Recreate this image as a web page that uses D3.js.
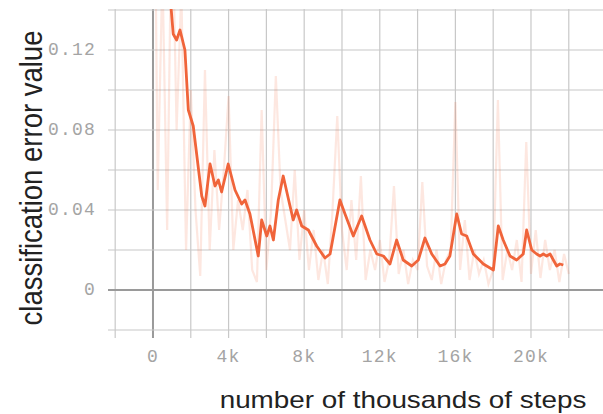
<!DOCTYPE html>
<html>
<head>
<meta charset="utf-8">
<script src="https://cdn.jsdelivr.net/npm/d3@7"></script>
<style>
  body { margin: 0; background: #fff; }
  svg { display: block; }
</style>
</head>
<body>
<div id="container"></div>
<script>
//Smoothed curve (thousands of steps, error value)
var smoothSteps = [0, 0.5, 0.95, 1.07, 1.25, 1.43, 1.69, 1.87, 2.13, 2.58, 2.75, 3.02, 3.28, 3.46, 3.63, 3.98,
    4.34, 4.69, 4.87, 5.13, 5.57, 5.75, 6.02, 6.19, 6.37, 6.63, 6.89, 7.25, 7.42, 7.60, 7.87, 8.22, 8.66,
    9.10, 9.37, 9.89, 10.16, 10.60, 11.04, 11.48, 11.84, 12.19, 12.54, 12.89, 13.24, 13.69, 14.04, 14.39,
    14.75, 15.19, 15.45, 15.71, 16.07, 16.33, 16.60, 16.95, 17.48, 18.01, 18.27, 18.53, 18.89, 19.24,
    19.59, 19.77, 20.04, 20.30, 20.48, 20.65, 20.83, 21.01, 21.36, 21.53, 21.71];
var smoothValues = [0.22, 0.18, 0.142, 0.128, 0.125, 0.130, 0.120, 0.090, 0.082, 0.047, 0.042, 0.063, 0.052, 0.055, 0.049, 0.063,
    0.050, 0.043, 0.045, 0.038, 0.017, 0.035, 0.027, 0.032, 0.025, 0.045, 0.057, 0.042, 0.035, 0.040, 0.032, 0.030, 0.022,
    0.016, 0.018, 0.045, 0.038, 0.027, 0.037, 0.025, 0.018, 0.017, 0.013, 0.025, 0.015, 0.012, 0.015, 0.026,
    0.018, 0.012, 0.013, 0.017, 0.038, 0.028, 0.027, 0.018, 0.013, 0.010, 0.032, 0.025, 0.017, 0.015,
    0.018, 0.030, 0.020, 0.018, 0.017, 0.018, 0.017, 0.018, 0.012, 0.013, 0.0125];

//Raw (unsmoothed) values, one every 0.25k steps
var rawSteps = d3.range(0, 22.001, 0.25);
var rawValues = [0.30, 0.05, 0.16, 0.03, 0.20, 0.08, 0.15, 0.02, 0.10, 0.04, 0.007, 0.11, 0.02, 0.07, 0.03, 0.06,
    0.097, 0.02, 0.045, 0.03, 0.05, 0.01, 0.004, 0.09, 0.01, 0.04, 0.107, 0.05, 0.035, 0.02, 0.06, 0.015,
    0.04, 0.01, 0.03, 0.005, 0.02, 0.003, 0.04, 0.087, 0.03, 0.01, 0.045, 0.015, 0.057, 0.005, 0.02, 0.01,
    0.025, 0.004, 0.015, 0.052, 0.008, 0.02, 0.003, 0.015, 0.01, 0.054, 0.012, 0.005, 0.02, 0.003,
    0.015, 0.02, 0.094, 0.01, 0.035, 0.005, 0.02, 0.008, 0.015, 0.003, 0.01, 0.095, 0.005, 0.02,
    0.01, 0.025, 0.004, 0.074, 0.008, 0.03, 0.006, 0.025, 0.01, 0.02, 0.004, 0.018, 0.008];

//Tick labels
var xTicks = [0, 4, 8, 12, 16, 20];
var xTickLabels = ["0", "4k", "8k", "12k", "16k", "20k"];
var yTicks = [0, 0.04, 0.08, 0.12];
var yTickLabels = ["0", "0.04", "0.08", "0.12"];
var xGrid = d3.range(-2, 22.001, 2);
var yGrid = d3.range(-0.02, 0.1401, 0.02);

var width = 603, height = 414;
var plot = { left: 108, right: 603, top: 9, bottom: 330 };

var x = d3.scaleLinear().domain([-2.38, 23.81]).range([plot.left, plot.right]);
var y = d3.scaleLinear().domain([-0.02, 0.1405]).range([plot.bottom, plot.top]);

var svg = d3.select("#container").append("svg")
    .attr("width", width)
    .attr("height", height);

svg.append("defs").append("clipPath").attr("id", "clip")
    .append("rect")
    .attr("x", plot.left).attr("y", plot.top)
    .attr("width", plot.right - plot.left).attr("height", plot.bottom - plot.top);

//Grid lines
var grid = svg.append("g");
grid.selectAll(".vgrid").data(xGrid).enter().append("line")
    .attr("x1", function (d) { return x(d); })
    .attr("x2", function (d) { return x(d); })
    .attr("y1", plot.top).attr("y2", plot.bottom + 8)
    .attr("stroke", function (d) { return d === 0 ? "#9a9a9a" : "#c8c8c8"; })
    .attr("stroke-width", function (d) { return d === 0 ? 2 : 1.2; });
grid.selectAll(".hgrid").data(yGrid).enter().append("line")
    .attr("x1", plot.left).attr("x2", plot.right)
    .attr("y1", function (d) { return y(d); })
    .attr("y2", function (d) { return y(d); })
    .attr("stroke", function (d) { return Math.abs(d) < 1e-9 ? "#9a9a9a" : "#c8c8c8"; })
    .attr("stroke-width", function (d) { return Math.abs(d) < 1e-9 ? 2 : 1.2; });

//Lines
var lineGen = d3.line()
    .x(function (d) { return x(d[0]); })
    .y(function (d) { return y(d[1]); });

var lines = svg.append("g").attr("clip-path", "url(#clip)");
lines.append("path")
    .datum(d3.zip(rawSteps, rawValues))
    .attr("d", lineGen)
    .attr("fill", "none")
    .attr("stroke", "#f36a3f")
    .attr("stroke-opacity", 0.16)
    .attr("stroke-width", 2.2);
lines.append("path")
    .datum(d3.zip(smoothSteps, smoothValues))
    .attr("d", lineGen)
    .attr("fill", "none")
    .attr("stroke", "#f0643a")
    .attr("stroke-width", 2.8)
    .attr("stroke-linejoin", "round");

//Tick labels
svg.append("g").selectAll("text").data(xTicks).enter().append("text")
    .attr("x", function (d) { return x(d); })
    .attr("y", 362)
    .attr("text-anchor", "middle")
    .attr("font-family", "Liberation Mono, monospace")
    .attr("font-size", 18)
    .attr("letter-spacing", 1.2)
    .attr("fill", "#a4a4a4")
    .text(function (d, i) { return xTickLabels[i]; });

svg.append("g").selectAll("text").data(yTicks).enter().append("text")
    .attr("x", 96)
    .attr("y", function (d) { return y(d); })
    .attr("dy", "0.3em")
    .attr("text-anchor", "end")
    .attr("font-family", "Liberation Mono, monospace")
    .attr("font-size", 18)
    .attr("letter-spacing", 1.2)
    .attr("fill", "#a4a4a4")
    .text(function (d, i) { return yTickLabels[i]; });

//Axis titles
svg.append("text")
    .attr("transform", "translate(42,178) rotate(-90) scale(1,1.15)")
    .attr("text-anchor", "middle")
    .attr("font-family", "Liberation Sans, Arial, sans-serif")
    .attr("font-size", 27.5)
    .attr("fill", "#222")
    .text("classification error value");

svg.append("text")
    .attr("transform", "translate(403,408) scale(1.16,1)")
    .attr("text-anchor", "middle")
    .attr("font-family", "Liberation Sans, Arial, sans-serif")
    .attr("font-size", 24)
    .attr("fill", "#222")
    .text("number of thousands of steps");
</script>
</body>
</html>
